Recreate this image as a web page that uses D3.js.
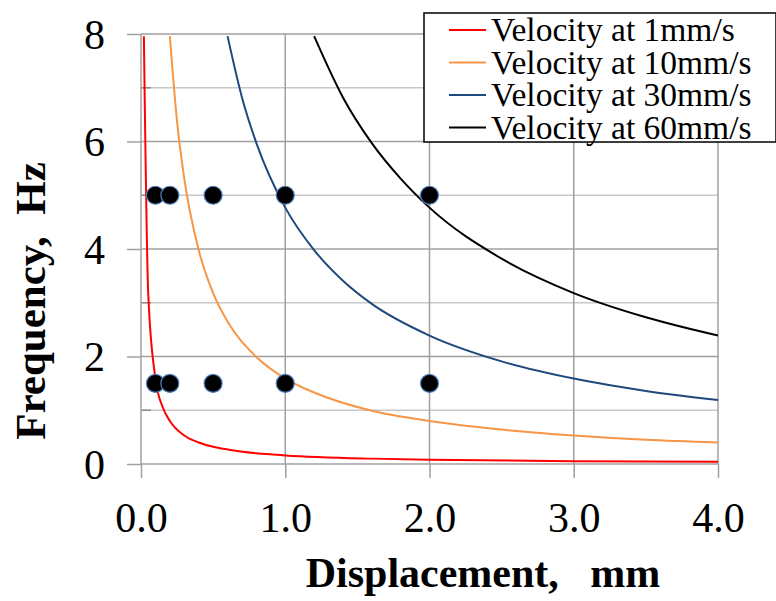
<!DOCTYPE html>
<html>
<head>
<meta charset="utf-8">
<script src="https://cdn.jsdelivr.net/npm/d3@7"></script>
<style>
  body { margin: 0; background: #fff; }
  svg { display: block; font-family: "Liberation Serif", "Times New Roman", serif; }
</style>
</head>
<body>
<svg id="chart" width="776" height="601"></svg>
<script>
// ---- data ----
const xTicks = [0, 1, 2, 3, 4];
const yTicks = [0, 2, 4, 6, 8];
const yMinor = [1, 3, 5, 7];

const seriesNames = ['Velocity at 1mm/s', 'Velocity at 10mm/s', 'Velocity at 30mm/s', 'Velocity at 60mm/s'];
const seriesColors = ['#ff0000', '#f79646', '#1f497d', '#000000'];

const dispV1  = [0.02, 0.05, 0.1, 0.15, 0.2, 0.3, 0.4, 0.5, 0.6, 0.8, 1.0, 1.6, 2.0, 3.0, 4.0];
const freqV1  = [7.96, 3.18, 1.59, 1.06, 0.80, 0.53, 0.40, 0.32, 0.27, 0.20, 0.16, 0.10, 0.08, 0.05, 0.04];
const dispV10 = [0.2, 0.25, 0.3, 0.4, 0.5, 0.6, 0.8, 1.0, 1.2, 1.6, 2.0, 2.5, 3.0, 3.5, 4.0];
const freqV10 = [7.96, 6.37, 5.31, 3.98, 3.18, 2.65, 1.99, 1.59, 1.33, 0.99, 0.80, 0.64, 0.53, 0.45, 0.40];
const dispV30 = [0.6, 0.7, 0.8, 1.0, 1.2, 1.4, 1.6, 2.0, 2.5, 3.0, 3.5, 4.0];
const freqV30 = [7.96, 6.82, 5.97, 4.77, 3.98, 3.41, 2.98, 2.39, 1.91, 1.59, 1.36, 1.19];
const dispV60 = [1.2, 1.4, 1.6, 1.8, 2.0, 2.5, 3.0, 3.5, 4.0];
const freqV60 = [7.96, 6.82, 5.97, 5.31, 4.77, 3.82, 3.18, 2.73, 2.39];

const testDisp = [0.1, 0.2, 0.5, 1.0, 2.0, 0.1, 0.2, 0.5, 1.0, 2.0];
const testFreq = [5, 5, 5, 5, 5, 1.5, 1.5, 1.5, 1.5, 1.5];

// ---- layout ----
const margin = { top: 34, left: 141, right: 58, bottom: 137 };
const W = 776, H = 601;
const width = W - margin.left - margin.right;
const height = H - margin.top - margin.bottom;
const serif = '"Liberation Serif", "Times New Roman", serif';

const svg = d3.select('#chart');
const g = svg.append('g').attr('transform', `translate(${margin.left},${margin.top})`);

const x = d3.scaleLinear().domain([0, 4]).range([0, width]);
const y = d3.scaleLinear().domain([0, 8]).range([height, 0]);

// minor horizontal grid
g.selectAll('.minor').data(yMinor).join('line')
  .attr('x1', 0).attr('x2', width)
  .attr('y1', d => y(d)).attr('y2', d => y(d))
  .attr('stroke', '#c8c8c8').attr('stroke-width', 1.5);
// minor ticks (inside)
g.selectAll('.minorTick').data(yMinor).join('line')
  .attr('x1', 0).attr('x2', 10)
  .attr('y1', d => y(d)).attr('y2', d => y(d))
  .attr('stroke', '#8c8c8c').attr('stroke-width', 1.5);

// major grid
g.selectAll('.hgrid').data(yTicks).join('line')
  .attr('x1', 0).attr('x2', width)
  .attr('y1', d => y(d)).attr('y2', d => y(d))
  .attr('stroke', '#a0a0a0').attr('stroke-width', 1.5);
g.selectAll('.vgrid').data(xTicks).join('line')
  .attr('x1', d => x(d)).attr('x2', d => x(d))
  .attr('y1', 0).attr('y2', height)
  .attr('stroke', '#a0a0a0').attr('stroke-width', 1.5);

// axes
const yAxis = g.append('g')
  .call(d3.axisLeft(y).tickValues(yTicks).tickSize(14).tickPadding(22).tickFormat(d3.format('d')));
const xAxis = g.append('g')
  .attr('transform', `translate(0,${height})`)
  .call(d3.axisBottom(x).tickValues(xTicks).tickSize(14).tickPadding(24).tickFormat(d3.format('.1f')));

[yAxis, xAxis].forEach(a => {
  a.attr('font-family', serif);
  a.select('.domain').remove();
  a.selectAll('line').attr('stroke', '#a0a0a0').attr('stroke-width', 1.5);
  a.selectAll('text').attr('fill', '#000').style('font-size', '42px')
    .style('font-family', serif);
});
yAxis.selectAll('text').attr('dy', '0.34em');

// curves
const series = [
  { xs: dispV1, ys: freqV1 },
  { xs: dispV10, ys: freqV10 },
  { xs: dispV30, ys: freqV30 },
  { xs: dispV60, ys: freqV60 }
];
const line = d3.line()
  .x(d => x(d[0])).y(d => y(d[1]))
  .curve(d3.curveMonotoneX);

series.forEach((s, i) => {
  g.append('path')
    .datum(s.xs.map((v, k) => [v, s.ys[k]]))
    .attr('d', line)
    .attr('fill', 'none')
    .attr('stroke', seriesColors[i])
    .attr('stroke-width', 2);
});

// test points
g.selectAll('.pt').data(testDisp.map((v, k) => [v, testFreq[k]])).join('circle')
  .attr('cx', d => x(d[0])).attr('cy', d => y(d[1]))
  .attr('r', 9)
  .attr('fill', '#000')
  .attr('stroke', '#4f81bd').attr('stroke-width', 1.2);

// legend
const leg = svg.append('g').attr('transform', 'translate(424,13)');
leg.append('rect')
  .attr('x', 0).attr('y', 0).attr('width', 352).attr('height', 129)
  .attr('fill', '#fff').attr('stroke', '#000').attr('stroke-width', 1.5);
seriesNames.forEach((name, i) => {
  const yy = 17 + i * 32.5;
  leg.append('line')
    .attr('x1', 25).attr('x2', 62).attr('y1', yy).attr('y2', yy)
    .attr('stroke', seriesColors[i]).attr('stroke-width', 2);
  leg.append('text')
    .attr('x', 67).attr('y', yy + 11)
    .style('font-size', '33.5px').style('font-family', serif)
    .text(name);
});

// axis titles
svg.append('text')
  .attr('x', 483).attr('y', 587)
  .attr('text-anchor', 'middle')
  .style('font-size', '42px').style('font-weight', 'bold').style('font-family', serif)
  .style('white-space', 'pre')
  .text('Displacement,   mm');

svg.append('text')
  .attr('transform', 'translate(45,301) rotate(-90)')
  .attr('text-anchor', 'middle')
  .style('font-size', '43px').style('font-weight', 'bold').style('font-family', serif)
  .style('white-space', 'pre')
  .text('Frequency,  Hz');
</script>
</body>
</html>
